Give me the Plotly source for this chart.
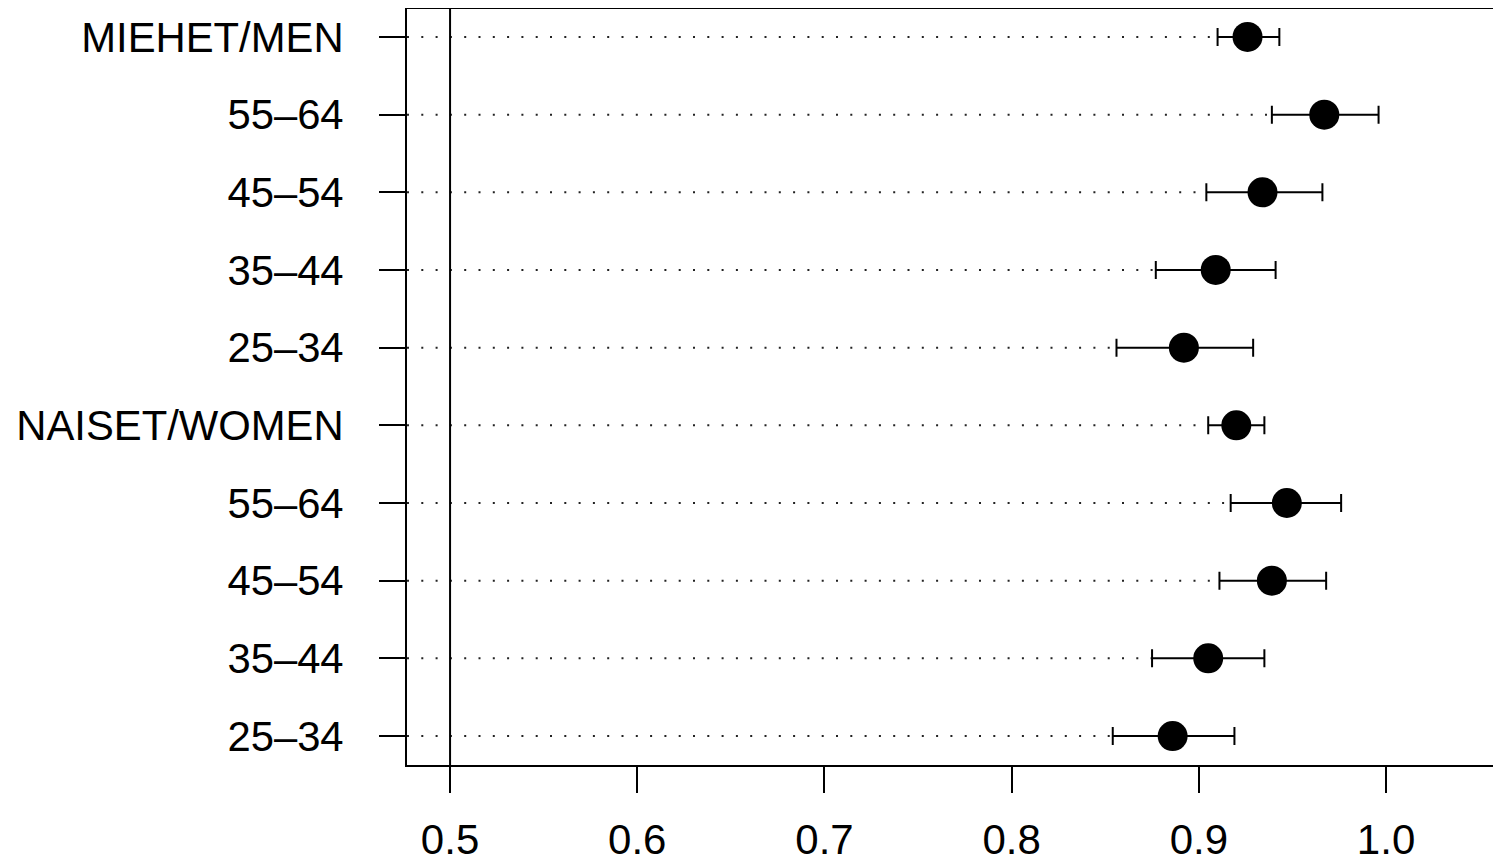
import plotly.graph_objects as go

# Data (top to bottom)
labels = ["MIEHET/MEN", "55–64", "45–54", "35–44", "25–34",
          "NAISET/WOMEN", "55–64", "45–54", "35–44", "25–34"]
estimate = [0.926, 0.967, 0.934, 0.909, 0.892, 0.920, 0.947, 0.939, 0.905, 0.886]
lower = [0.910, 0.939, 0.904, 0.877, 0.856, 0.905, 0.917, 0.911, 0.875, 0.854]
upper = [0.943, 0.996, 0.966, 0.941, 0.929, 0.935, 0.976, 0.968, 0.935, 0.919]
x_ticks = [0.5, 0.6, 0.7, 0.8, 0.9, 1.0]
x_ticktext = ["0.5", "0.6", "0.7", "0.8", "0.9", "1.0"]
ref_value = 0.5

n = len(labels)
ypos = list(range(n, 0, -1))
x_min = 0.477

fig = go.Figure()

# dotted guide lines from left edge to lower bound
for y, lo in zip(ypos, lower):
    fig.add_trace(go.Scatter(
        x=[x_min, lo], y=[y, y], mode="lines",
        line=dict(color="#222222", width=2, dash="2px,12.3px"),
        hoverinfo="skip", showlegend=False))

# reference vertical line
fig.add_trace(go.Scatter(
    x=[ref_value, ref_value], y=[0.0, n + 1], mode="lines",
    line=dict(color="black", width=2), hoverinfo="skip", showlegend=False))

# points with CI
fig.add_trace(go.Scatter(
    x=estimate, y=ypos, mode="markers",
    marker=dict(color="black", size=30, line=dict(width=0)),
    error_x=dict(type="data", symmetric=False,
                 array=[u - e for u, e in zip(upper, estimate)],
                 arrayminus=[e - l for e, l in zip(estimate, lower)],
                 color="black", thickness=2, width=9),
    showlegend=False))

fig.update_layout(
    width=1493, height=854,
    margin=dict(l=399, r=0, t=1, b=97),
    plot_bgcolor="white", paper_bgcolor="white",
    font=dict(family="Liberation Sans, Arial, sans-serif", color="black", size=42),
    xaxis=dict(range=[x_min, 1.0614], tickvals=x_ticks, ticktext=x_ticktext,
               showgrid=False, zeroline=False, showline=True, linecolor="black",
               linewidth=2, mirror=True, ticks="outside", ticklen=26, tickwidth=2,
               tickcolor="black", tickfont=dict(size=42), ticklabelstandoff=11,
               automargin=False),
    yaxis=dict(range=[0.627, 10.36], tickvals=ypos, ticktext=labels,
               showgrid=False, zeroline=False, showline=True, linecolor="black",
               linewidth=2, ticks="outside", ticklen=26, tickwidth=2,
               tickcolor="black", tickfont=dict(size=41.8), ticklabelstandoff=27,
               automargin=False),
)

fig.write_html("out.html")
